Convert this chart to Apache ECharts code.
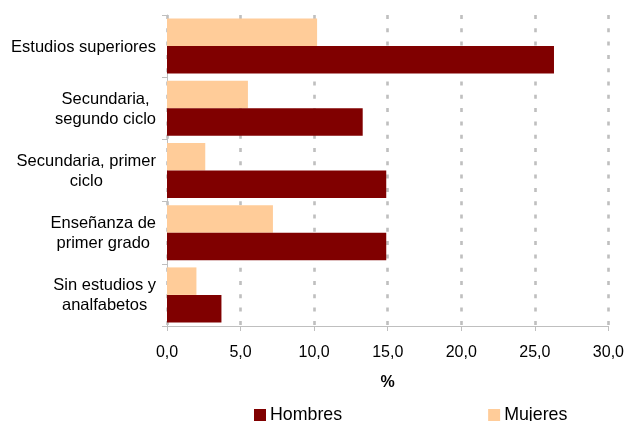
<!DOCTYPE html>
<html>
<head>
<meta charset="utf-8">
<script src="https://cdn.jsdelivr.net/npm/echarts@6/dist/echarts.min.js"></script>
<style>html,body{margin:0;padding:0;background:#fff;}#c{width:627px;height:421px;}</style>
</head>
<body>
<div id="c"></div>
<script>
// Categories, top to bottom
var categories = [
  "Estudios superiores",
  "Secundaria,\nsegundo ciclo",
  "Secundaria, primer\nciclo",
  "Enseñanza de\nprimer grado",
  "Sin estudios y\nanalfabetos"
];
var hombres = [26.3, 13.3, 14.9, 14.9, 3.7];
var mujeres = [10.2, 5.5, 2.6, 7.2, 2.0];
var xTicks = [0, 5, 10, 15, 20, 25, 30];

var chart = echarts.init(document.getElementById('c'), null, {renderer: 'canvas'});
var font = '"Liberation Sans", Arial, sans-serif';
chart.setOption({
  animation: false,
  backgroundColor: '#fff',
  grid: {left: 167, right: 18, top: 15, bottom: 95, containLabel: false},
  legend: {
    data: ['Hombres', 'Mujeres'],
    left: 254, top: 406,
    itemWidth: 12, itemHeight: 12, itemGap: 146,
    icon: 'rect',
    textStyle: {fontFamily: font, fontSize: 17.8, color: '#000', padding: [0, 0, 0, -1]},
    padding: 0
  },
  xAxis: {
    type: 'value',
    min: xTicks[0], max: xTicks[xTicks.length - 1], interval: 5,
    name: '%', nameLocation: 'middle', nameGap: 49,
    nameTextStyle: {fontFamily: font, fontSize: 16, fontWeight: 'bold', color: '#000'},
    axisLine: {show: true, lineStyle: {color: '#bfbfbf', width: 1}},
    axisTick: {show: true, length: 5, lineStyle: {color: '#bfbfbf'}},
    axisLabel: {
      fontFamily: font, fontSize: 16, color: '#000', margin: 19,
      formatter: function (v) { return v.toFixed(1).replace('.', ','); }
    },
    splitLine: {show: true, lineStyle: {color: '#bfbfbf', width: 2.6, type: [4, 9.3]}}
  },
  yAxis: {
    type: 'category',
    inverse: true,
    data: categories,
    axisLine: {show: true, lineStyle: {color: '#bfbfbf', width: 1}},
    axisTick: {show: true, length: 5, lineStyle: {color: '#bfbfbf'}},
    axisLabel: {
      fontFamily: font, fontSize: 16.5, color: '#000', margin: 11, lineHeight: 20,
      align: 'right',
      formatter: function (v) {
        return v.split('\n').map(function (l) { return '{c|' + l + '}'; }).join('\n');
      },
      rich: {c: {align: 'center', fontFamily: font, fontSize: 16.5, color: '#000', lineHeight: 20, padding: [2, 0, 0, 0]}}
    },
    splitLine: {show: false}
  },
  series: [
    {name: 'Mujeres', type: 'bar', data: mujeres, itemStyle: {color: '#FFCC99'}, barGap: '0%', barCategoryGap: '11.6%'},
    {name: 'Hombres', type: 'bar', data: hombres, itemStyle: {color: '#800000'}, barGap: '0%', barCategoryGap: '11.6%'}
  ]
});
</script>
</body>
</html>
